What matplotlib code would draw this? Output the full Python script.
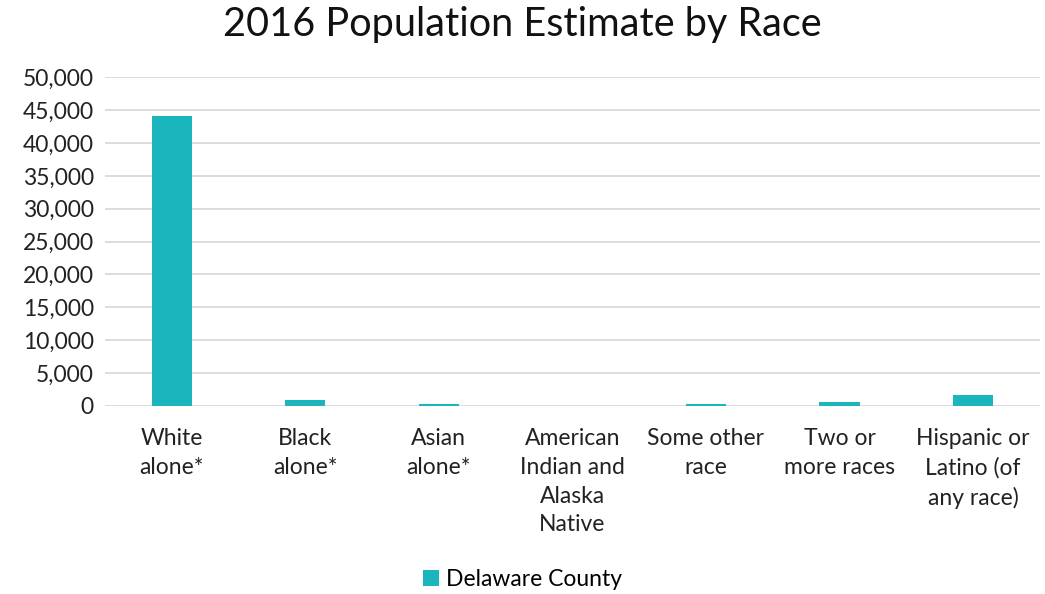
import matplotlib.pyplot as plt

categories = ["White\nalone*", "Black\nalone*", "Asian\nalone*",
              "American\nIndian and\nAlaska\nNative", "Some other\nrace",
              "Two or\nmore races", "Hispanic or\nLatino (of\nany race)"]
population = [44100, 850, 250, 30, 280, 600, 1600]
yticks = list(range(0, 50001, 5000))

plt.rcParams['font.family'] = ['Lato', 'DejaVu Sans']

fig = plt.figure(figsize=(10.45, 5.94), dpi=100)
ax = fig.add_axes([0.1005, 0.3165, 0.8945, 0.5535])

x = range(len(categories))
ax.bar(x, population, width=0.3, color='#1AB5BD', label='Delaware County', zorder=3)

ax.set_xlim(-0.5, len(categories) - 0.5)
ax.set_ylim(0, 50000)
ax.set_yticks(yticks)
ax.set_yticklabels([f"{v:,}" for v in yticks], fontsize=16.5, color='#222222')
ax.set_xticks(list(x))
ax.set_xticklabels(categories, fontsize=16.5, color='#222222', linespacing=1.45)
ax.tick_params(axis='both', length=0)
ax.tick_params(axis='x', pad=16)
ax.tick_params(axis='y', pad=8)

ax.grid(axis='y', color='#D9D9D9', linewidth=1.3, zorder=0)
for s in ax.spines.values():
    s.set_visible(False)

fig.suptitle('2016 Population Estimate by Race', fontsize=28.5, y=0.99, color='#111111')
fig.legend(loc='lower center', bbox_to_anchor=(0.5, -0.028), frameon=False,
           fontsize=16.5, handlelength=0.7, handleheight=0.7, handletextpad=0.3)

plt.savefig('out.png', dpi=100)
